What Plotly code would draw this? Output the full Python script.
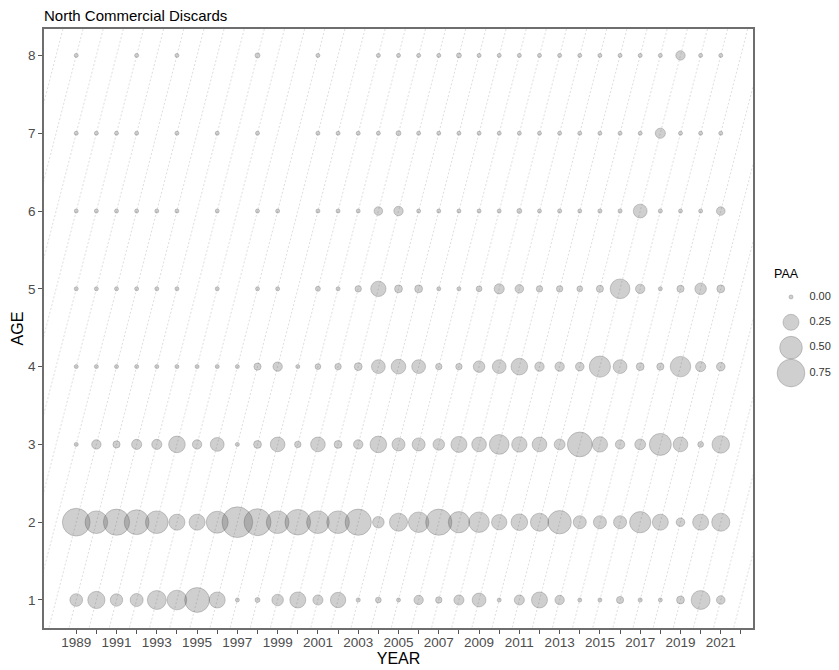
import plotly.graph_objects as go

# ---------------- data ----------------
years = list(range(1989, 2022))
ages = [1, 2, 3, 4, 5, 6, 7, 8]
t = 0.0005  # barely-visible proportions

paa_age1 = [0.157, 0.29, 0.15, 0.165, 0.35, 0.38, 0.60, 0.25, 0.002, 0.024, 0.13, 0.25, 0.10, 0.23, 0.017, 0.032,
            0.002, 0.086, 0.04, 0.10, 0.186, 0.012, 0.10, 0.25, 0.086, 0.0074, 0.002, 0.05, 0.017, 0.0074, 0.06, 0.35, 0.072]
paa_age2 = [0.75, 0.50, 0.67, 0.60, 0.50, 0.25, 0.25, 0.47, 0.92, 0.71, 0.50, 0.64, 0.50, 0.50, 0.67, 0.13,
            0.32, 0.41, 0.67, 0.44, 0.41, 0.23, 0.27, 0.32, 0.53, 0.165, 0.165, 0.165, 0.44, 0.25, 0.072, 0.25, 0.32]
paa_age3 = [0.012, 0.086, 0.05, 0.10, 0.10, 0.27, 0.086, 0.186, 0.0074, 0.06, 0.21, 0.04, 0.21, 0.06, 0.086, 0.27,
            0.165, 0.165, 0.13, 0.25, 0.21, 0.38, 0.23, 0.21, 0.115, 0.60, 0.23, 0.086, 0.115, 0.47, 0.21, 0.032, 0.30]
paa_age4 = [0.001, 0.004, 0.012, t, t, 0.012, 0.012, 0.012, t, 0.05, 0.086, 0.012, 0.032, 0.04, 0.06, 0.186,
            0.21, 0.186, 0.04, 0.04, 0.13, 0.186, 0.27, 0.086, 0.086, 0.072, 0.44, 0.186, 0.06, 0.05, 0.41, 0.10, 0.072]
paa_age5 = [t, t, t, t, t, t, None, t, None, 0.007, 0.007, None, 0.024, 0.002, 0.04, 0.23,
            0.06, 0.06, 0.007, 0.007, 0.032, 0.10, 0.072, 0.04, 0.04, 0.032, 0.05, 0.38, 0.086, 0.007, 0.05, 0.13, 0.06]
paa_age6 = [t, t, t, t, t, t, None, t, None, 0.007, 0.007, None, 0.01, 0.004, 0.004, 0.072,
            0.086, 0.007, 0.004, 0.007, 0.004, 0.01, 0.024, 0.007, 0.017, 0.007, 0.017, 0.017, 0.186, 0.017, 0.007, 0.007, 0.072]
paa_age7 = [t, t, t, t, None, t, None, t, None, t, None, None, 0.004, t, t, t,
            0.024, 0.007, 0.002, 0.01, t, t, 0.002, t, 0.002, 0.002, 0.004, 0.007, 0.004, 0.10, 0.004, 0.002, 0.002]
paa_age8 = [t, None, None, t, None, t, None, None, None, 0.024, None, None, 0.002, None, None, 0.007,
            0.004, t, t, 0.024, 0.007, 0.004, t, t, t, t, 0.007, 0.007, 0.007, 0.007, 0.086, 0.007, 0.007]

paa_by_age = [paa_age1, paa_age2, paa_age3, paa_age4, paa_age5, paa_age6, paa_age7, paa_age8]

x_tick_years = list(range(1989, 2023))
x_tick_labels = [str(y) if (y % 2 == 1 and y <= 2021) else "" for y in x_tick_years]

legend_values = [0.00, 0.25, 0.50, 0.75]
legend_labels = ["0.00", "0.25", "0.50", "0.75"]

# ---------------- styling ----------------
FONT = "Liberation Sans, Arial, sans-serif"
SIZEREF = 0.25 / (16 ** 2) * 2   # 0.25 -> ~16 px diameter
FILL = "rgba(85,85,85,0.4)"
EDGE = "rgba(60,60,60,0.45)"

# page body has an 8px margin: figure is offset by (8, 8)
W, H = 831, 662
ML, MR, MT, MB = 36, 0, 21, 42
PW, PH = W - ML - MR, H - MT - MB

def px_x(page_x):
    return (page_x - 8 - ML) / PW

def px_y(page_y):
    return (H - MB - (page_y - 8)) / PH

xs, ys, ss = [], [], []
for a, vals in zip(ages, paa_by_age):
    for yr, v in zip(years, vals):
        if v is None:
            continue
        xs.append(yr)
        ys.append(a)
        ss.append(v)

# cohort diagonals (year - age = constant)
cx, cy = [], []
for c in range(years[0] - ages[-1] - 2, years[-1] + 2):
    cx += [c, c + 10, None]
    cy += [0, 10, None]

fig = go.Figure()
fig.add_trace(go.Scatter(x=cx, y=cy, mode="lines", hoverinfo="skip",
                         line=dict(color="#cfcfcf", width=0.7, dash="2px,2px"),
                         showlegend=False))
fig.add_trace(go.Scatter(x=xs, y=ys, mode="markers", showlegend=False,
                         marker=dict(size=ss, sizemode="area", sizeref=SIZEREF, sizemin=2,
                                     color=FILL, line=dict(color=EDGE, width=0.8))))

# size legend (drawn on its own small axes)
leg_sizes = [max(v, 1e-4) for v in legend_values]
fig.add_trace(go.Scatter(x=[0] * len(legend_values), y=legend_values, mode="markers",
                         xaxis="x2", yaxis="y2", showlegend=False, hoverinfo="skip",
                         cliponaxis=False,
                         marker=dict(size=leg_sizes, sizemode="area", sizeref=SIZEREF, sizemin=2,
                                     color=FILL, line=dict(color=EDGE, width=0.8))))
fig.add_trace(go.Scatter(x=[1.15] * len(legend_values), y=legend_values, mode="text",
                         text=legend_labels, textposition="middle right", cliponaxis=False,
                         textfont=dict(size=11, color="#333", family=FONT),
                         xaxis="x2", yaxis="y2", showlegend=False, hoverinfo="skip"))

fig.update_layout(
    width=W, height=H,
    margin=dict(l=ML, r=MR, t=MT, b=MB),
    paper_bgcolor="white", plot_bgcolor="white",
    font=dict(family=FONT),
    title=dict(text="North Commercial Discards", x=(44 - 8) / W, xref="container", xanchor="left",
               y=1 - (16 - 8) / H, yref="container", yanchor="middle",
               font=dict(size=15, color="black", family=FONT)),
    xaxis=dict(domain=[0, px_x(753)], range=[1987.4, 2022.6], tickmode="array",
               tickvals=x_tick_years, ticktext=x_tick_labels, ticks="outside", ticklen=4,
               tickcolor="#555", tickwidth=1, showgrid=False, zeroline=False,
               showline=True, linecolor="#6e6e6e", linewidth=1.5, mirror=True,
               tickfont=dict(size=13.5, color="#4d4d4d"), ticklabelstandoff=-3,
               title=dict(text="YEAR", font=dict(size=16, color="black"), standoff=2),
               automargin=False),
    yaxis=dict(domain=[0, 1], range=[0.64, 8.34], tickmode="array", tickvals=ages,
               ticktext=[str(a) for a in ages], ticks="outside", ticklen=4,
               tickcolor="#555", tickwidth=1, showgrid=False, zeroline=False,
               showline=True, linecolor="#6e6e6e", linewidth=1.5, mirror=True,
               tickfont=dict(size=13.5, color="#4d4d4d"),
               title=dict(text="AGE", font=dict(size=16, color="black"), standoff=0),
               automargin=False),
    xaxis2=dict(domain=[px_x(775), 1.0], range=[-1, 3], visible=False, anchor="y2"),
    yaxis2=dict(domain=[px_y(385.7), px_y(284.3)], range=[0.875, -0.125], visible=False, anchor="x2"),
)

fig.add_annotation(text="PAA", xref="paper", yref="paper", x=px_x(772), y=px_y(274),
                   xanchor="left", yanchor="middle", showarrow=False,
                   font=dict(size=12.5, color="black", family=FONT))

fig.write_html("out.html")
